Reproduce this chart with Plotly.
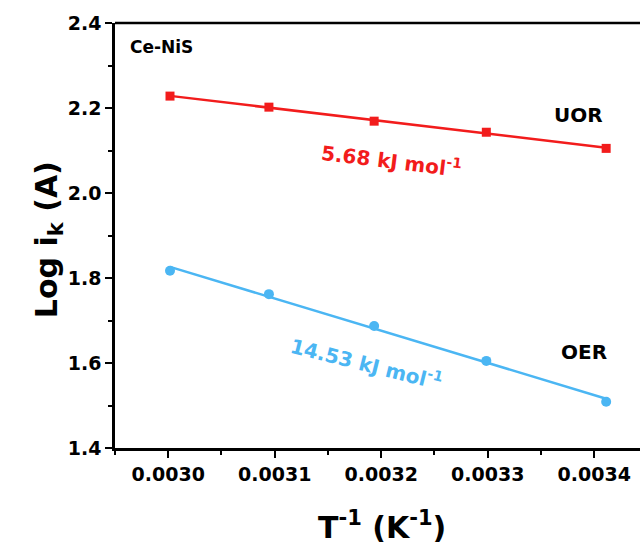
import numpy as np
import plotly.graph_objects as go

# Data
temps_K = [333.15, 323.15, 313.15, 303.15, 293.15]
inv_T = [1.0 / t for t in temps_K]
uor_log_ik = [2.228, 2.202, 2.169, 2.143, 2.105]
oer_log_ik = [1.817, 1.762, 1.687, 1.605, 1.509]
x_ticks = [0.0030, 0.0031, 0.0032, 0.0033, 0.0034]
y_ticks = [1.4, 1.6, 1.8, 2.0, 2.2, 2.4]

RED = "#F21C1C"
BLUE = "#4BB6F3"
FONT = "DejaVu Sans, Arial, sans-serif"

fig = go.Figure()

def fit_line(x, y):
    k, b = np.polyfit(x, y, 1)
    xs = [min(x), max(x)]
    return xs, [k * v + b for v in xs]

for ys, color, sym, msize in [(uor_log_ik, RED, "square", 9), (oer_log_ik, BLUE, "circle", 10)]:
    fx, fy = fit_line(inv_T, ys)
    fig.add_trace(go.Scatter(x=fx, y=fy, mode="lines", line=dict(color=color, width=2.5),
                             showlegend=False, hoverinfo="skip"))
    fig.add_trace(go.Scatter(x=inv_T, y=ys, mode="markers",
                             marker=dict(symbol=sym, size=msize, color=color),
                             showlegend=False))

axis_common = dict(
    showline=True, linecolor="black", linewidth=2.5,
    ticks="outside", ticklen=7, tickwidth=2, tickcolor="black",
    showgrid=False, zeroline=False,
    tickfont=dict(family=FONT, size=19, color="black", weight="bold"),
)

fig.update_xaxes(range=[0.00295, 0.003443], tickvals=x_ticks, tickformat=".4f",
                 minor=dict(ticks="outside", ticklen=4, tickwidth=2, tickcolor="black", dtick=0.00005,
                            tick0=0.00295, showgrid=False),
                 **axis_common)
fig.update_yaxes(range=[1.4, 2.4], tickvals=y_ticks, tickformat=".1f",
                 minor=dict(ticks="outside", ticklen=4, tickwidth=2, tickcolor="black", dtick=0.1,
                            tick0=1.4, showgrid=False),
                 **axis_common)

# top border
fig.add_shape(type="line", xref="paper", yref="paper", x0=0, x1=1, y0=1, y1=1,
              line=dict(color="black", width=2.5))

bold = dict(family=FONT, color="black", weight="bold")
fig.add_annotation(x=0.002994, y=2.344, text="Ce-NiS", showarrow=False,
                   font=dict(size=17, **bold), xanchor="center")
fig.add_annotation(x=0.003385, y=2.183, text="UOR", showarrow=False, font=dict(size=20, **bold))
fig.add_annotation(x=0.00339, y=1.627, text="OER", showarrow=False, font=dict(size=20, **bold))
fig.add_annotation(x=0.00321, y=2.078, text="5.68 kJ mol<sup>-1</sup>", showarrow=False,
                   textangle=7, font=dict(size=20, family=FONT, color=RED, weight="bold"))
fig.add_annotation(x=0.003186, y=1.60, text="14.53 kJ mol<sup>-1</sup>", showarrow=False,
                   textangle=14, font=dict(size=20, family=FONT, color=BLUE, weight="bold"))

# axis titles
fig.add_annotation(x=-0.1276, y=0.489, xref="paper", yref="paper", text="Log i<sub>k</sub> (A)",
                   showarrow=False, textangle=-90, xanchor="center", yanchor="middle",
                   font=dict(size=30, **bold))
fig.add_annotation(x=0.5086, y=-0.183, xref="paper", yref="paper", text="T<sup>-1</sup> (K<sup>-1</sup>)",
                   showarrow=False, xanchor="center", yanchor="middle", font=dict(size=30, **bold))

fig.update_layout(width=640, height=547, margin=dict(l=115, r=0, t=23, b=99),
                  plot_bgcolor="white", paper_bgcolor="white")

fig.write_html("out.html")
